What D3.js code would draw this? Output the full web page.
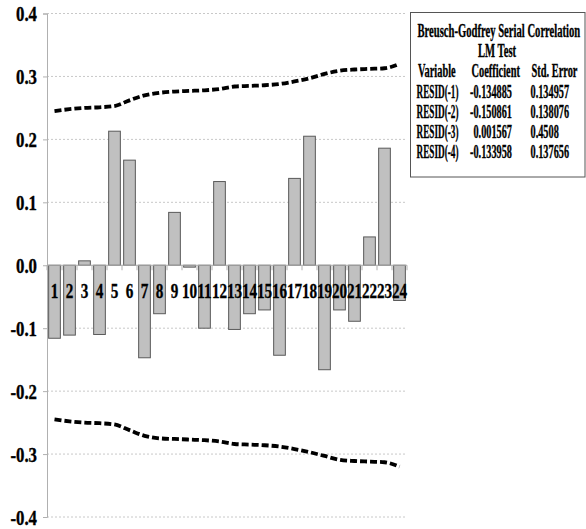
<!DOCTYPE html>
<html>
<head>
<meta charset="utf-8">
<script src="https://cdn.jsdelivr.net/npm/d3@7"></script>
<style>
  html, body { margin: 0; padding: 0; background: #fff; }
  svg { display: block; }
  text { font-family: "Liberation Serif", "Times New Roman", serif; font-weight: bold; fill: #000; stroke: #000; stroke-width: 0.35px; }
</style>
</head>
<body>
<svg id="chart" width="586" height="529"></svg>
<script>
// Residual lag index
const observations = d3.range(1, 25);
// Residual values
const residuals = [-0.116, -0.111, 0.007, -0.110, 0.213, 0.167, -0.147, -0.077, 0.084, -0.003,
                   -0.100, 0.133, -0.102, -0.077, -0.071, -0.143, 0.138, 0.205, -0.166, -0.071,
                   -0.089, 0.045, 0.186, -0.056];
// Upper and lower confidence bands
const upperBand = [0.245, 0.248, 0.250, 0.251, 0.253, 0.262, 0.270, 0.274, 0.276, 0.277,
                   0.278, 0.280, 0.284, 0.285, 0.286, 0.288, 0.292, 0.297, 0.304, 0.309,
                   0.311, 0.312, 0.313, 0.320];
const lowerBand = [-0.245, -0.248, -0.250, -0.251, -0.253, -0.262, -0.271, -0.275, -0.276, -0.277,
                   -0.278, -0.280, -0.284, -0.285, -0.286, -0.288, -0.292, -0.297, -0.303, -0.309,
                   -0.311, -0.312, -0.313, -0.320];
const yTicks = [0.4, 0.3, 0.2, 0.1, 0.0, -0.1, -0.2, -0.3, -0.4];

// LM test table
const tableTitle = ["Breusch-Godfrey Serial Correlation", "LM Test"];
const tableColumns = ["Variable", "Coefficient", "Std. Error"];
const tableVars = ["RESID(-1)", "RESID(-2)", "RESID(-3)", "RESID(-4)"];
const tableCoef = ["-0.134885", "-0.150861", "0.001567", "-0.133958"];
const tableSE = ["0.134957", "0.138076", "0.4508", "0.137656"];

const svg = d3.select("#chart");
const plotLeft = 47, plotRight = 407, plotTop = 13.5, plotBottom = 517;

const x = d3.scaleBand().domain(observations).range([plotLeft, plotRight]).paddingInner(0.22).paddingOuter(0.11);
const y = d3.scaleLinear().domain([-0.4, 0.4]).range([plotBottom, plotTop]);

// place a condensed text: anchor at (px, py), squeezed horizontally by k
function condensed(sel, px, py, k) {
  sel.attr("x", 0).attr("y", 0)
     .attr("transform", (d, i) => `translate(${typeof px === "function" ? px(d, i) : px},${typeof py === "function" ? py(d, i) : py}) scale(${k},1)`);
}

// gridlines
svg.append("g").selectAll("line").data(yTicks.filter(d => d !== 0)).join("line")
  .attr("x1", plotLeft).attr("x2", plotRight)
  .attr("y1", d => y(d)).attr("y2", d => y(d))
  .attr("stroke", "#c8c8c8").attr("stroke-width", 1).attr("stroke-dasharray", "2,2");

// y axis
const yAxis = svg.append("g").attr("transform", `translate(${plotLeft},0)`)
  .call(d3.axisLeft(y).tickValues(yTicks).tickFormat(d3.format(".1f")).tickSize(4).tickPadding(6));
yAxis.select(".domain").attr("stroke", "#b0b0b0");
yAxis.selectAll(".tick line").attr("stroke", "#b0b0b0");
yAxis.selectAll(".tick text")
  .attr("font-size", 20).attr("font-family", "Liberation Serif, serif").attr("font-weight", "bold")
  .attr("fill", "#000").attr("dy", "0.36em")
  .text(d => d3.format(".1f")(d).replace("−", "-"))
  .call(condensed, -10, 0, 0.84);

// bars
svg.append("g").selectAll("rect").data(residuals).join("rect")
  .attr("x", (d, i) => x(observations[i]))
  .attr("width", x.bandwidth())
  .attr("y", d => y(Math.max(0, d)))
  .attr("height", d => Math.abs(y(d) - y(0)))
  .attr("fill", "#c0c0c0").attr("stroke", "#5a5a5a").attr("stroke-width", 1);

// zero axis with ticks at category boundaries
svg.append("line").attr("x1", plotLeft).attr("x2", plotRight).attr("y1", y(0)).attr("y2", y(0))
  .attr("stroke", "#a8a8a8").attr("stroke-width", 1);
const boundaries = observations.map(d => x(d) - x.step() * x.paddingInner() / 2);
boundaries.push(plotRight);
svg.append("g").selectAll("line").data(boundaries).join("line")
  .attr("x1", d => d).attr("x2", d => d).attr("y1", y(0)).attr("y2", y(0) + 5)
  .attr("stroke", "#b0b0b0");

// category labels
svg.append("g").selectAll("text").data(observations).join("text")
  .attr("text-anchor", "middle")
  .attr("font-size", 22)
  .text(d => d)
  .call(condensed, d => x(d) + x.bandwidth() / 2, 298, 0.69);

// confidence bands
const band = d3.line().x((d, i) => x(observations[i]) + x.bandwidth() / 2).y(d => y(d)).curve(d3.curveMonotoneX);
[upperBand, lowerBand].forEach(series => {
  svg.append("path").datum(series).attr("d", band)
    .attr("fill", "none").attr("stroke", "#000").attr("stroke-width", 3.8)
    .attr("stroke-dasharray", "7,3");
});

// test table
const tbl = svg.append("g");
tbl.append("rect").attr("x", 410.5).attr("y", 12.5).attr("width", 174.5).attr("height", 164.5)
  .attr("fill", "#fff").attr("stroke", "#555").attr("stroke-width", 1);
const fs = 19;

// horizontal squeeze that brings a sample string to a given width
function squeezeFor(sample, width) {
  const t = tbl.append("text").attr("font-size", fs).text(sample);
  const w = t.node().getComputedTextLength();
  t.remove();
  return width / w;
}
const kTitle = squeezeFor(tableTitle[0], 163);
const kHead = squeezeFor(tableColumns[1], 48.5);
const kVar = squeezeFor(tableVars[0], 42);
const kNum = squeezeFor(tableCoef[0], 42);

tbl.append("text").attr("font-size", fs).text(tableTitle[0]).call(condensed, 417.5, 36.5, kTitle);
tbl.append("text").attr("font-size", fs).text(tableTitle[1]).call(condensed, 478, 56.5, kTitle);
const colX = [418, 471.5, 531.5];
tbl.selectAll(".col").data(tableColumns).join("text").attr("class", "col")
  .attr("font-size", fs).text(d => d).call(condensed, (d, i) => colX[i], 77, kHead);
tbl.selectAll(".var").data(tableVars).join("text").attr("class", "var")
  .attr("font-size", fs).text(d => d).call(condensed, 416.5, (d, i) => 98 + i * 20, kVar);
tbl.selectAll(".coef").data(tableCoef).join("text").attr("class", "coef")
  .attr("text-anchor", "end").attr("font-size", fs)
  .text(d => d).call(condensed, 512, (d, i) => 98 + i * 20, kNum);
tbl.selectAll(".se").data(tableSE).join("text").attr("class", "se")
  .attr("font-size", fs).text(d => d).call(condensed, 530.5, (d, i) => 98 + i * 20, kNum);
</script>
</body>
</html>
